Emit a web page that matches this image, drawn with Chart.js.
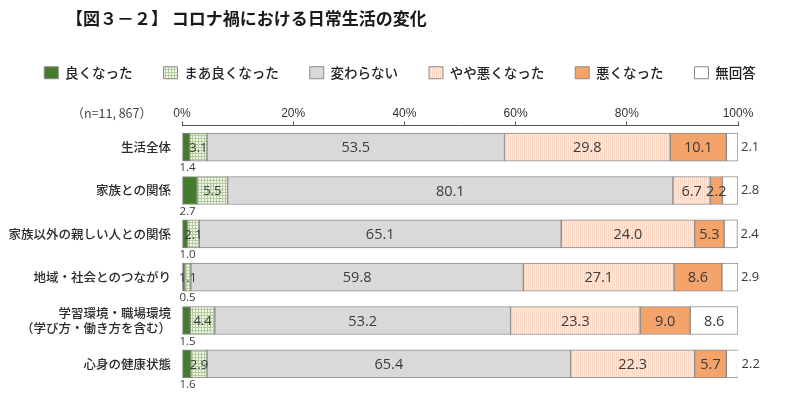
<!DOCTYPE html>
<html>
<head>
<meta charset="utf-8">
<script src="https://cdn.jsdelivr.net/npm/chart.js@4"></script>
<style>
  html, body { margin: 0; padding: 0; background: #fff; }
  #wrap { width: 800px; height: 396px; }
</style>
</head>
<body>
<div id="wrap"><canvas id="bar-chart" width="800" height="396"></canvas></div>
<script>
const chartTitle = "【図３－２】 コロナ禍における日常生活の変化";
const sampleNote = "（n=11, 867）";

const categories = [
  "生活全体",
  "家族との関係",
  "家族以外の親しい人との関係",
  "地域・社会とのつながり",
  ["学習環境・職場環境", "（学び方・働き方を含む）"],
  "心身の健康状態"
];

const seriesNames = ["良くなった", "まあ良くなった", "変わらない", "やや悪くなった", "悪くなった", "無回答"];

const good       = [1.4, 2.7, 1.0, 0.5, 1.5, 1.6];
const ratherGood = [3.1, 5.5, 2.1, 1.1, 4.4, 2.9];
const unchanged  = [53.5, 80.1, 65.1, 59.8, 53.2, 65.4];
const ratherBad  = [29.8, 6.7, 24.0, 27.1, 23.3, 22.3];
const bad        = [10.1, 2.2, 5.3, 8.6, 9.0, 5.7];
const noAnswer   = [2.1, 2.8, 2.4, 2.9, 8.6, 2.2];

const xTicks = [0, 20, 40, 60, 80, 100];

const makePattern = (size, base, line, draw) => {
  const c = document.createElement("canvas");
  c.width = size; c.height = size;
  const g = c.getContext("2d");
  g.fillStyle = base;
  g.fillRect(0, 0, size, size);
  g.fillStyle = line;
  draw(g);
  return document.getElementById("bar-chart").getContext("2d").createPattern(c, "repeat");
};

const gridGreen = makePattern(3, "#f1f6ea", "#b4cb9b", (g) => {
  g.fillRect(0, 0, 3, 1);
  g.fillRect(0, 0, 1, 3);
});
const dotPink = makePattern(2, "#fdeadf", "#f8d8c4", (g) => {
  g.fillRect(0, 0, 1, 2);
});

const fills = ["#437c2a", gridGreen, "#d9d9d9", dotPink, "#f4a46a", "#ffffff"];
const values = [good, ratherGood, unchanged, ratherBad, bad, noAnswer];

const labelFont = "'Open Sans', 'DejaVu Sans', sans-serif";
const jpFont = "'Noto Sans CJK JP', sans-serif";

const valueLabels = {
  id: "valueLabels",
  afterDatasetsDraw(chart) {
    const ctx = chart.ctx;
    ctx.save();
    ctx.fillStyle = "#3a3a3a";
    chart.data.datasets.forEach((ds, di) => {
      const meta = chart.getDatasetMeta(di);
      meta.data.forEach((bar, i) => {
        const v = ds.data[i];
        const { x, y, base, height } = bar.getProps(["x", "y", "base", "height"], true);
        const txt = v.toFixed(1);
        if (di === 0) {
          ctx.font = "11.5px " + labelFont;
          ctx.textAlign = "left";
          ctx.textBaseline = "top";
          ctx.fillText(txt, base - 3, y + height / 2 + 1);
        } else if (di === 5 && v < 5) {
          ctx.font = "13px " + labelFont;
          ctx.textAlign = "left";
          ctx.textBaseline = "middle";
          ctx.fillText(txt, x + 3, y);
        } else {
          ctx.font = (di === 1 ? "13px " : "14.5px ") + labelFont;
          ctx.textAlign = "center";
          ctx.textBaseline = "middle";
          ctx.fillText(txt, (x + base) / 2, y + 1);
        }
      });
    });
    ctx.restore();
  }
};

const headerText = {
  id: "headerText",
  afterDraw(chart) {
    const ctx = chart.ctx;
    ctx.save();
    ctx.fillStyle = "#1a1a1a";
    ctx.font = "bold 17px " + jpFont;
    ctx.textAlign = "left";
    ctx.textBaseline = "middle";
    ctx.fillText(chartTitle, 66, 19);
    ctx.fillStyle = "#444";
    ctx.font = "12.5px " + jpFont;
    ctx.textAlign = "right";
    ctx.fillText(sampleNote, 152, chart.chartArea.top - 12);
    ctx.restore();
  }
};

const createChart = () => {
  new Chart(document.getElementById("bar-chart"), {
    type: "bar",
    data: {
      labels: categories,
      datasets: seriesNames.map((name, i) => ({
        label: name,
        data: values[i],
        backgroundColor: fills[i],
        borderColor: "#8a8a8a",
        borderWidth: 1,
        borderSkipped: false,
        barThickness: 28
      }))
    },
    options: {
      indexAxis: "y",
      responsive: false,
      animation: false,
      layout: { padding: { top: 35, left: 0, right: 0, bottom: 0 } },
      plugins: {
        legend: {
          position: "top",
          labels: {
            boxWidth: 14,
            boxHeight: 12,
            padding: 31,
            color: "#222",
            font: { family: jpFont, size: 13.5, weight: "500" }
          }
        },
        title: { display: false },
        tooltip: { enabled: false }
      },
      scales: {
        x: {
          position: "top",
          stacked: true,
          min: 0,
          max: 100,
          afterBuildTicks: (scale) => { scale.ticks = xTicks.map(v => ({ value: v })); },
          afterFit: (scale) => { scale.height = 36; },
          ticks: {
            callback: (v) => v + "%",
            padding: 1,
            color: "#333",
            font: { family: "'Liberation Sans Narrow', 'Liberation Sans', sans-serif", size: 12 }
          },
          grid: { drawOnChartArea: false, tickLength: 4, color: "#555" },
          border: { display: true, color: "#555" }
        },
        y: {
          stacked: true,
          afterFit: (scale) => { scale.width = 182; },
          ticks: {
            padding: 3,
            color: "#2a2a2a",
            font: { family: jpFont, size: 12.5, weight: "500" }
          },
          grid: { display: false },
          border: { display: false }
        },
        // empty right-hand axis, only keeps room for the outside labels
        yRight: {
          position: "right",
          afterFit: (scale) => { scale.width = 62; },
          ticks: { display: false },
          grid: { display: false },
          border: { display: false }
        }
      }
    },
    plugins: [valueLabels, headerText]
  });
};

createChart();
</script>
</body>
</html>
